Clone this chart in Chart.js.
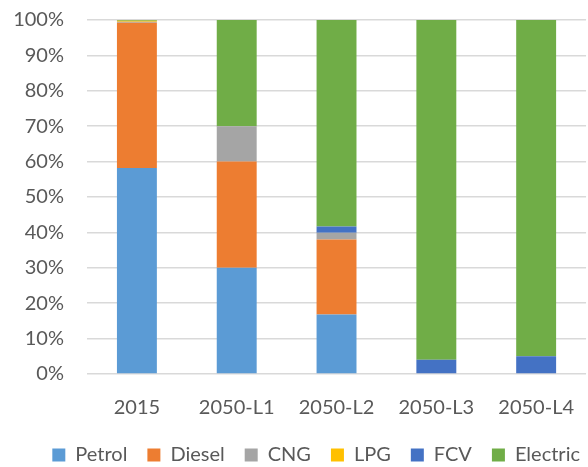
<!DOCTYPE html>
<html lang="en">
<head>
    <meta charset="UTF-8">
    <title>Vehicle Fleet Share</title>
    <script src="https://cdn.jsdelivr.net/npm/chart.js"></script>
    <style>
        html, body { margin: 0; padding: 0; background: #fff; }
        #wrap { width: 588px; height: 467px; }
    </style>
</head>
<body>
    <div id="wrap"><canvas id="fleetChart"></canvas></div>
    <script>
        const scenarios = ['2015', '2050-L1', '2050-L2', '2050-L3', '2050-L4'];
        const petrol   = [58.2, 30, 16.8, 0, 0];
        const diesel   = [41.0, 30, 21.2, 0, 0];
        const cng      = [0.3, 10, 1.9, 0, 0];
        const lpg      = [0.3, 0, 0, 0, 0];
        const fcv      = [0, 0, 1.8, 4.0, 5.0];
        const electric = [0.2, 30, 58.3, 96.0, 95.0];
        const yTicks   = [0, 10, 20, 30, 40, 50, 60, 70, 80, 90, 100];

        const font = "'Lato', 'Open Sans', sans-serif";
        const textColor = '#595959';

        // pull the legend a bit lower and further right than chart.js puts it
        const legendShift = {
            id: 'legendShift',
            afterInit(chart) {
                const legend = chart.legend;
                const fit = legend.fit;
                const draw = legend.draw;
                legend.fit = function() {
                    fit.call(this);
                    this.height -= 8;
                };
                legend.draw = function() {
                    const c = this.ctx;
                    c.save();
                    c.translate(12, 0);
                    draw.call(this);
                    c.restore();
                };
            }
        };

        const ctx = document.getElementById('fleetChart').getContext('2d');
        const chart = new Chart(ctx, {
            type: 'bar',
            data: {
                labels: scenarios,
                datasets: [
                    { label: 'Petrol', data: petrol, backgroundColor: '#5B9BD5' },
                    { label: 'Diesel', data: diesel, backgroundColor: '#ED7D31' },
                    { label: 'CNG', data: cng, backgroundColor: '#A5A5A5' },
                    { label: 'LPG', data: lpg, backgroundColor: '#FFC000' },
                    { label: 'FCV', data: fcv, backgroundColor: '#4472C4' },
                    { label: 'Electric', data: electric, backgroundColor: '#70AD47' }
                ]
            },
            options: {
                responsive: true,
                maintainAspectRatio: false,
                animation: false,
                barPercentage: 0.4,
                categoryPercentage: 1,
                layout: { padding: { top: 20, right: 0, left: 0, bottom: 0 } },
                scales: {
                    x: {
                        stacked: true,
                        grid: { display: false },
                        border: { display: false },
                        afterFit: function(scale) { scale.height = 51; },
                        ticks: { color: textColor, font: { family: font, size: 20 }, padding: 14 }
                    },
                    y: {
                        stacked: true,
                        min: 0,
                        max: 100,
                        afterFit: function(scale) {
                            scale.width = 87;
                            scale.paddingTop = 0;
                        },
                        afterBuildTicks: function(scale) {
                            scale.ticks = yTicks.map(v => ({ value: v }));
                        },
                        grid: { color: '#D9D9D9', lineWidth: 1.5, drawTicks: false },
                        border: { display: false },
                        ticks: {
                            color: textColor,
                            padding: 23,
                            font: { family: font, size: 20 },
                            callback: v => v + '%'
                        }
                    }
                },
                plugins: {
                    tooltip: { enabled: false },
                    legend: {
                        position: 'bottom',
                        align: 'end',
                        labels: {
                            color: textColor,
                            font: { family: font, size: 20 },
                            boxWidth: 13,
                            boxHeight: 13,
                            padding: 20
                        }
                    }
                }
            },
            plugins: [legendShift]
        });
    </script>
</body>
</html>
